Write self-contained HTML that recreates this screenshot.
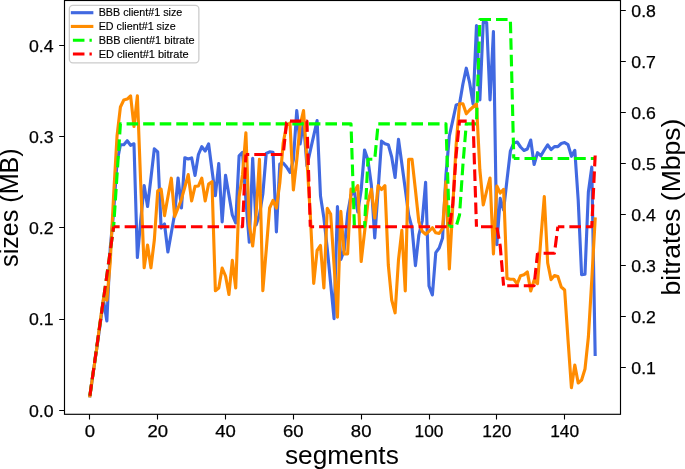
<!DOCTYPE html>
<html><head><meta charset="utf-8"><style>
html,body{margin:0;padding:0;background:#fff;width:685px;height:469px;overflow:hidden}
svg{display:block;will-change:transform}
text{font-family:"Liberation Sans",sans-serif;fill:#000}
</style></head><body><svg width="685" height="469" viewBox="0 0 685 469"><defs><clipPath id="c"><rect x="64.50" y="0.50" width="556.00" height="413.80"/></clipPath></defs><g clip-path="url(#c)"><polyline points="89.90,395.8 93.29,372.0 96.68,349.0 100.07,325.0 103.46,300.0 106.86,321.0 110.25,248.0 113.64,212.0 117.03,162.0 120.42,144.7 123.81,144.7 127.20,140.7 130.59,145.3 133.98,143.8 137.37,257.5 140.77,220.0 144.16,185.5 147.55,206.5 150.94,178.0 154.33,148.8 157.72,152.0 161.11,228.0 164.50,224.0 167.89,252.0 171.28,233.0 174.68,213.8 178.07,178.0 181.46,208.0 184.85,157.7 188.24,159.0 191.63,157.9 195.02,175.5 198.41,154.5 201.80,146.7 205.19,151.0 208.59,143.8 211.98,170.0 215.37,195.7 218.76,163.5 222.15,222.0 225.54,175.3 228.93,195.0 232.32,215.0 235.71,223.0 239.10,155.9 242.50,152.3 245.89,200.0 249.28,242.3 252.67,158.2 256.06,225.0 259.45,215.0 262.84,194.0 266.23,153.5 269.62,151.8 273.01,152.3 276.40,232.0 279.80,164.0 283.19,163.0 286.58,167.0 289.97,172.5 293.36,160.0 296.75,110.6 300.14,144.0 303.53,122.0 306.92,165.8 310.31,150.7 313.71,135.6 317.10,120.5 320.49,196.0 323.88,218.0 327.27,248.6 330.66,283.7 334.05,318.7 337.44,206.6 340.83,259.5 344.23,250.0 347.62,213.6 351.01,195.0 354.40,192.0 357.79,212.0 361.18,190.0 364.57,150.0 367.96,160.0 371.35,185.0 374.74,238.0 378.13,190.0 381.53,141.1 384.92,143.8 388.31,144.7 391.70,157.0 395.09,177.5 398.48,139.3 401.87,164.0 405.26,189.0 408.65,215.0 412.04,228.0 415.44,265.7 418.83,235.0 422.22,221.0 425.61,182.4 429.00,286.0 432.39,295.0 435.78,252.6 439.17,248.0 442.56,238.0 445.96,175.0 449.35,136.0 452.74,120.6 456.13,105.0 459.52,104.0 462.91,84.0 466.30,68.2 469.69,83.0 473.08,104.0 476.47,25.6 479.87,100.0 483.26,22.0 486.65,22.5 490.04,100.0 493.43,31.5 496.82,244.6 500.21,198.4 503.60,210.0 506.99,180.0 510.38,151.0 513.77,143.0 517.17,142.0 520.56,147.0 523.95,150.5 527.34,149.0 530.73,140.0 534.12,164.5 537.51,152.7 540.90,155.8 544.29,150.0 547.69,144.8 551.08,149.6 554.47,146.6 557.86,146.6 561.25,143.5 564.64,142.6 568.03,144.6 571.42,156.3 574.81,150.4 578.20,200.0 581.60,274.8 584.99,274.1 588.38,192.0 591.77,167.2 595.16,354.5" fill="none" stroke="#4169e1" stroke-width="3.13" stroke-linejoin="round" stroke-linecap="square"/><polyline points="89.90,395.8 93.29,372.0 96.68,349.0 100.07,322.0 103.46,298.4 106.86,300.0 110.25,262.0 113.64,195.0 117.03,136.0 120.42,107.0 123.81,100.0 127.20,99.1 130.59,95.8 133.98,126.5 137.37,95.8 140.77,185.0 144.16,267.8 147.55,245.0 150.94,267.8 154.33,240.0 157.72,191.0 161.11,189.2 164.50,215.6 167.89,197.0 171.28,178.2 174.68,216.5 178.07,208.0 181.46,199.2 184.85,187.0 188.24,174.6 191.63,201.0 195.02,186.4 198.41,186.0 201.80,178.2 205.19,201.0 208.59,184.0 211.98,181.7 215.37,290.8 218.76,288.0 222.15,268.0 225.54,276.0 228.93,294.5 232.32,260.3 235.71,288.0 239.10,197.0 242.50,175.0 245.89,132.9 249.28,225.0 252.67,246.0 256.06,215.0 259.45,159.4 262.84,290.7 266.23,250.0 269.62,208.0 273.01,200.4 276.40,208.0 279.80,183.0 283.19,143.0 286.58,125.0 289.97,123.0 293.36,190.0 296.75,160.0 300.14,125.0 303.53,110.6 306.92,160.0 310.31,215.0 313.71,283.4 317.10,250.5 320.49,245.5 323.88,288.0 327.27,208.3 330.66,214.0 334.05,265.0 337.44,317.2 340.83,211.4 344.23,254.0 347.62,254.0 351.01,189.0 354.40,191.0 357.79,185.6 361.18,261.5 364.57,232.0 367.96,202.0 371.35,189.3 374.74,218.0 378.13,185.6 381.53,189.5 384.92,185.6 388.31,265.0 391.70,300.0 395.09,312.8 398.48,260.0 401.87,230.3 405.26,291.0 408.65,159.3 412.04,159.3 415.44,190.0 418.83,222.0 422.22,231.3 425.61,234.2 429.00,231.3 432.39,227.7 435.78,232.8 439.17,233.5 442.56,228.4 445.96,181.7 449.35,269.0 452.74,207.0 456.13,145.0 459.52,103.8 462.91,103.8 466.30,113.8 469.69,110.0 473.08,107.0 476.47,103.8 479.87,170.0 483.26,205.0 486.65,191.0 490.04,178.0 493.43,254.0 496.82,186.0 500.21,193.0 503.60,189.3 506.99,278.4 510.38,279.3 513.77,279.3 517.17,283.9 520.56,275.7 523.95,274.7 527.34,272.0 530.73,291.0 534.12,280.2 537.51,283.7 540.90,238.2 544.29,196.6 547.69,263.0 551.08,279.6 554.47,275.5 557.86,276.5 561.25,287.0 564.64,290.0 568.03,340.0 571.42,387.7 574.81,365.0 578.20,383.0 581.60,380.0 584.99,369.0 588.38,337.0 591.77,280.0 595.16,219.0" fill="none" stroke="#ff8c00" stroke-width="3.13" stroke-linejoin="round" stroke-linecap="square"/><polyline points="89.90,395.8 93.29,371.7 96.68,347.5 100.07,323.4 103.46,299.3 106.86,275.2 110.25,251.0 113.64,226.9" fill="none" stroke="#00ff00" stroke-width="3.13" stroke-linejoin="round" stroke-linecap="butt" stroke-dasharray="11.57 5.0" stroke-dashoffset="0.00"/><polyline points="113.64,226.9 117.03,175.0 120.42,123.9 123.81,123.9 127.20,123.9 130.59,123.9 133.98,123.9 137.37,123.9 140.77,123.9 144.16,123.9 147.55,123.9 150.94,123.9 154.33,123.9 157.72,123.9 161.11,123.9 164.50,123.9 167.89,123.9 171.28,123.9 174.68,123.9 178.07,123.9 181.46,123.9 184.85,123.9 188.24,123.9 191.63,123.9 195.02,123.9 198.41,123.9 201.80,123.9 205.19,123.9 208.59,123.9 211.98,123.9 215.37,123.9 218.76,123.9 222.15,123.9 225.54,123.9 228.93,123.9 232.32,123.9 235.71,123.9 239.10,123.9 242.50,123.9 245.89,123.9 249.28,123.9 252.67,123.9 256.06,123.9 259.45,123.9 262.84,123.9 266.23,123.9 269.62,123.9 273.01,123.9 276.40,123.9 279.80,123.9 283.19,123.9 286.58,123.9 289.97,123.9 293.36,123.9 296.75,123.9 300.14,123.9 303.53,123.9 306.92,123.9 310.31,123.9 313.71,123.9 317.10,123.9 320.49,123.9 323.88,123.9 327.27,123.9 330.66,123.9 334.05,123.9 337.44,123.9 340.83,123.9 344.23,123.9 347.62,123.9 351.01,123.9 354.40,226.5" fill="none" stroke="#00ff00" stroke-width="3.13" stroke-linejoin="round" stroke-linecap="butt" stroke-dasharray="11.57 5.0" stroke-dashoffset="6.62"/><polyline points="354.40,226.5 357.79,226.5 361.18,226.5 364.57,226.5 367.96,159.3 371.35,159.3 374.74,159.3 378.13,123.9 381.53,123.9 384.92,123.9 388.31,123.9 391.70,123.9 395.09,123.9 398.48,123.9 401.87,123.9 405.26,123.9 408.65,123.9 412.04,123.9 415.44,123.9 418.83,123.9 422.22,123.9 425.61,123.9 429.00,123.9 432.39,123.9 435.78,123.9 439.17,123.9 442.56,123.9 445.96,123.9 449.35,226.5" fill="none" stroke="#00ff00" stroke-width="3.13" stroke-linejoin="round" stroke-linecap="butt" stroke-dasharray="11.57 5.0" stroke-dashoffset="12.60"/><polyline points="449.35,226.5 452.74,226.5 456.13,226.5 459.52,215.0 462.91,165.0 466.30,123.9 469.69,123.9 473.08,123.9 476.47,123.9 479.87,19.5 483.26,19.5 486.65,19.5 490.04,19.5 493.43,19.5 496.82,19.5 500.21,19.5 503.60,19.5 506.99,19.5 510.38,19.5 513.77,158.5" fill="none" stroke="#00ff00" stroke-width="3.13" stroke-linejoin="round" stroke-linecap="butt" stroke-dasharray="11.57 5.0" stroke-dashoffset="7.68"/><polyline points="513.77,158.5 517.17,158.5 520.56,158.5 523.95,158.5 527.34,158.5 530.73,158.5 534.12,158.5 537.51,158.5 540.90,158.5 544.29,158.5 547.69,158.5 551.08,158.5 554.47,158.5 557.86,158.5 561.25,158.5 564.64,158.5 568.03,158.5 571.42,158.5 574.81,158.5 578.20,158.5 581.60,158.5 584.99,158.5 588.38,158.5 591.77,158.5 595.16,158.5" fill="none" stroke="#00ff00" stroke-width="3.13" stroke-linejoin="round" stroke-linecap="butt" stroke-dasharray="11.57 5.0" stroke-dashoffset="5.84"/><polyline points="89.90,395.8 93.29,371.7 96.68,347.5 100.07,323.4 103.46,299.3 106.86,275.2 110.25,251.0 113.64,226.7" fill="none" stroke="#ff0000" stroke-width="3.13" stroke-linejoin="round" stroke-linecap="butt" stroke-dasharray="11.57 5.0" stroke-dashoffset="0.00"/><polyline points="113.64,226.7 117.03,226.7 120.42,226.7 123.81,226.7 127.20,226.7 130.59,226.7 133.98,226.7 137.37,226.7 140.77,226.7 144.16,226.7 147.55,226.7 150.94,226.7 154.33,226.7 157.72,226.7 161.11,226.7 164.50,226.7 167.89,226.7 171.28,226.7 174.68,226.7 178.07,226.7 181.46,226.7 184.85,226.7 188.24,226.7 191.63,226.7 195.02,226.7 198.41,226.7 201.80,226.7 205.19,226.7 208.59,226.7 211.98,226.7 215.37,226.7 218.76,226.7 222.15,226.7 225.54,226.7 228.93,226.7 232.32,226.7 235.71,226.7 239.10,226.7 242.50,226.7 245.89,154.5" fill="none" stroke="#ff0000" stroke-width="3.13" stroke-linejoin="round" stroke-linecap="butt" stroke-dasharray="11.57 5.0" stroke-dashoffset="5.56"/><polyline points="245.89,154.5 249.28,154.5 252.67,154.5 256.06,154.5 259.45,154.5 262.84,154.5 266.23,154.5 269.62,154.5 273.01,154.5 276.40,154.5 279.80,154.5 283.19,154.5 286.58,122.5 289.97,121.1" fill="none" stroke="#ff0000" stroke-width="3.13" stroke-linejoin="round" stroke-linecap="butt" stroke-dasharray="11.57 5.0" stroke-dashoffset="8.19"/><polyline points="289.97,121.1 293.36,121.1 296.75,121.1 300.14,121.1 303.53,121.1 306.92,121.1 310.31,226.7" fill="none" stroke="#ff0000" stroke-width="3.13" stroke-linejoin="round" stroke-linecap="butt" stroke-dasharray="11.57 5.0" stroke-dashoffset="0.37"/><polyline points="310.31,226.7 313.71,226.7 317.10,226.7 320.49,226.7 323.88,226.7 327.27,226.7 330.66,226.7 334.05,226.7 337.44,226.7 340.83,226.7 344.23,226.7 347.62,226.7 351.01,226.7 354.40,226.7 357.79,226.7 361.18,226.7 364.57,226.7 367.96,226.7 371.35,226.7 374.74,226.7 378.13,226.7 381.53,226.7 384.92,226.7 388.31,226.7 391.70,226.7 395.09,226.7 398.48,226.7 401.87,226.7 405.26,226.7 408.65,226.7 412.04,226.7 415.44,226.7 418.83,226.7 422.22,226.7 425.61,226.7 429.00,226.7 432.39,226.7 435.78,226.7 439.17,226.7 442.56,226.7 445.96,226.7 449.35,226.7 452.74,205.0 456.13,155.0 459.52,121.1 462.91,121.1 466.30,121.1 469.69,121.1 473.08,121.1 476.47,226.7" fill="none" stroke="#ff0000" stroke-width="3.13" stroke-linejoin="round" stroke-linecap="butt" stroke-dasharray="11.57 5.0" stroke-dashoffset="7.76"/><polyline points="476.47,226.7 479.87,226.7 483.26,226.7 486.65,226.7 490.04,226.7 493.43,226.7 496.82,226.7 500.21,246.0 503.60,285.7" fill="none" stroke="#ff0000" stroke-width="3.13" stroke-linejoin="round" stroke-linecap="butt" stroke-dasharray="11.57 5.0" stroke-dashoffset="12.04"/><polyline points="503.60,285.7 506.99,285.7 510.38,285.7 513.77,285.7 517.17,285.7 520.56,285.7 523.95,285.7 527.34,285.7 530.73,285.7 534.12,285.7 537.51,253.2" fill="none" stroke="#ff0000" stroke-width="3.13" stroke-linejoin="round" stroke-linecap="butt" stroke-dasharray="11.57 5.0" stroke-dashoffset="12.95"/><polyline points="537.51,253.2 540.90,253.2 544.29,253.2 547.69,253.2 551.08,253.2 554.47,253.2 557.86,226.7" fill="none" stroke="#ff0000" stroke-width="3.13" stroke-linejoin="round" stroke-linecap="butt" stroke-dasharray="11.57 5.0" stroke-dashoffset="10.48"/><polyline points="557.86,226.7 561.25,226.7 564.64,226.7 568.03,226.7 571.42,226.7 574.81,226.7 578.20,226.7 581.60,226.7 584.99,226.7 588.38,226.7 591.77,226.7 595.16,155.5" fill="none" stroke="#ff0000" stroke-width="3.13" stroke-linejoin="round" stroke-linecap="butt" stroke-dasharray="11.57 5.0" stroke-dashoffset="5.07"/></g><rect x="64.5" y="0.5" width="556.00" height="413.80" fill="none" stroke="#000" stroke-width="1.15"/><path d="M59.20 410.50H64.5 M59.20 319.50H64.5 M59.20 227.50H64.5 M59.20 136.50H64.5 M59.20 45.50H64.5 M620.5 367.50H625.80 M620.5 316.50H625.80 M620.5 265.50H625.80 M620.5 214.50H625.80 M620.5 163.50H625.80 M620.5 112.50H625.80 M620.5 61.50H625.80 M620.5 10.50H625.80 M89.50 414.3V419.60 M157.50 414.3V419.60 M225.50 414.3V419.60 M293.50 414.3V419.60 M361.50 414.3V419.60 M429.50 414.3V419.60 M496.50 414.3V419.60 M564.50 414.3V419.60" stroke="#000" stroke-width="1.11" fill="none"/><text x="41.2" y="416.50" text-anchor="middle" textLength="24.6" lengthAdjust="spacingAndGlyphs" font-size="16.6" stroke="#000" stroke-width="0.25" font-family="Liberation Sans, sans-serif">0.0</text><text x="41.2" y="325.27" text-anchor="middle" textLength="24.6" lengthAdjust="spacingAndGlyphs" font-size="16.6" stroke="#000" stroke-width="0.25" font-family="Liberation Sans, sans-serif">0.1</text><text x="41.2" y="234.05" text-anchor="middle" textLength="24.6" lengthAdjust="spacingAndGlyphs" font-size="16.6" stroke="#000" stroke-width="0.25" font-family="Liberation Sans, sans-serif">0.2</text><text x="41.2" y="142.82" text-anchor="middle" textLength="24.6" lengthAdjust="spacingAndGlyphs" font-size="16.6" stroke="#000" stroke-width="0.25" font-family="Liberation Sans, sans-serif">0.3</text><text x="41.2" y="51.60" text-anchor="middle" textLength="24.6" lengthAdjust="spacingAndGlyphs" font-size="16.6" stroke="#000" stroke-width="0.25" font-family="Liberation Sans, sans-serif">0.4</text><text x="643.6" y="373.96" text-anchor="middle" textLength="24.6" lengthAdjust="spacingAndGlyphs" font-size="16.6" stroke="#000" stroke-width="0.25" font-family="Liberation Sans, sans-serif">0.1</text><text x="643.6" y="322.92" text-anchor="middle" textLength="24.6" lengthAdjust="spacingAndGlyphs" font-size="16.6" stroke="#000" stroke-width="0.25" font-family="Liberation Sans, sans-serif">0.2</text><text x="643.6" y="271.88" text-anchor="middle" textLength="24.6" lengthAdjust="spacingAndGlyphs" font-size="16.6" stroke="#000" stroke-width="0.25" font-family="Liberation Sans, sans-serif">0.3</text><text x="643.6" y="220.84" text-anchor="middle" textLength="24.6" lengthAdjust="spacingAndGlyphs" font-size="16.6" stroke="#000" stroke-width="0.25" font-family="Liberation Sans, sans-serif">0.4</text><text x="643.6" y="169.80" text-anchor="middle" textLength="24.6" lengthAdjust="spacingAndGlyphs" font-size="16.6" stroke="#000" stroke-width="0.25" font-family="Liberation Sans, sans-serif">0.5</text><text x="643.6" y="118.76" text-anchor="middle" textLength="24.6" lengthAdjust="spacingAndGlyphs" font-size="16.6" stroke="#000" stroke-width="0.25" font-family="Liberation Sans, sans-serif">0.6</text><text x="643.6" y="67.72" text-anchor="middle" textLength="24.6" lengthAdjust="spacingAndGlyphs" font-size="16.6" stroke="#000" stroke-width="0.25" font-family="Liberation Sans, sans-serif">0.7</text><text x="643.6" y="16.68" text-anchor="middle" textLength="24.6" lengthAdjust="spacingAndGlyphs" font-size="16.6" stroke="#000" stroke-width="0.25" font-family="Liberation Sans, sans-serif">0.8</text><text x="89.90" y="437.1" text-anchor="middle" textLength="10.32" lengthAdjust="spacingAndGlyphs" font-size="16.6" stroke="#000" stroke-width="0.25" font-family="Liberation Sans, sans-serif">0</text><text x="157.72" y="437.1" text-anchor="middle" textLength="20.62" lengthAdjust="spacingAndGlyphs" font-size="16.6" stroke="#000" stroke-width="0.25" font-family="Liberation Sans, sans-serif">20</text><text x="225.54" y="437.1" text-anchor="middle" textLength="20.62" lengthAdjust="spacingAndGlyphs" font-size="16.6" stroke="#000" stroke-width="0.25" font-family="Liberation Sans, sans-serif">40</text><text x="293.36" y="437.1" text-anchor="middle" textLength="20.62" lengthAdjust="spacingAndGlyphs" font-size="16.6" stroke="#000" stroke-width="0.25" font-family="Liberation Sans, sans-serif">60</text><text x="361.18" y="437.1" text-anchor="middle" textLength="20.62" lengthAdjust="spacingAndGlyphs" font-size="16.6" stroke="#000" stroke-width="0.25" font-family="Liberation Sans, sans-serif">80</text><text x="429.00" y="437.1" text-anchor="middle" textLength="28.94" lengthAdjust="spacingAndGlyphs" font-size="16.6" stroke="#000" stroke-width="0.25" font-family="Liberation Sans, sans-serif">100</text><text x="496.82" y="437.1" text-anchor="middle" textLength="28.94" lengthAdjust="spacingAndGlyphs" font-size="16.6" stroke="#000" stroke-width="0.25" font-family="Liberation Sans, sans-serif">120</text><text x="564.64" y="437.1" text-anchor="middle" textLength="28.94" lengthAdjust="spacingAndGlyphs" font-size="16.6" stroke="#000" stroke-width="0.25" font-family="Liberation Sans, sans-serif">140</text><text x="284.9" y="464.0" textLength="113.88" lengthAdjust="spacingAndGlyphs" font-size="25.5" font-family="Liberation Sans, sans-serif">segments</text><text transform="translate(18.2,266.9) rotate(-90)" textLength="118.61" lengthAdjust="spacingAndGlyphs" font-size="25.5" font-family="Liberation Sans, sans-serif">sizes (MB)</text><text transform="translate(680.1,295.5) rotate(-90)" textLength="176.86" lengthAdjust="spacingAndGlyphs" font-size="25.5" font-family="Liberation Sans, sans-serif">bitrates (Mbps)</text><rect x="69.35" y="5.45" width="129.5" height="57.35" rx="3.5" fill="#fff" fill-opacity="0.8" stroke="#cccccc" stroke-width="1.3"/><path d="M72.4 12.7H91.8" stroke="#4169e1" stroke-width="3.13" stroke-linecap="square" fill="none"/><text x="98.7" y="16.30" textLength="83.6" lengthAdjust="spacingAndGlyphs" font-size="10.2" stroke="#000" stroke-width="0.15" font-family="Liberation Sans, sans-serif">BBB client#1 size</text><path d="M72.4 26.45H91.8" stroke="#ff8c00" stroke-width="3.13" stroke-linecap="square" fill="none"/><text x="98.7" y="30.05" textLength="77.0" lengthAdjust="spacingAndGlyphs" font-size="10.2" stroke="#000" stroke-width="0.15" font-family="Liberation Sans, sans-serif">ED client#1 size</text><path d="M72.9 40.2H91.8" stroke="#00ff00" stroke-width="3.13" stroke-dasharray="11.57 5.0" fill="none"/><text x="98.7" y="43.80" textLength="95.8" lengthAdjust="spacingAndGlyphs" font-size="10.2" stroke="#000" stroke-width="0.15" font-family="Liberation Sans, sans-serif">BBB client#1 bitrate</text><path d="M72.9 53.95H91.8" stroke="#ff0000" stroke-width="3.13" stroke-dasharray="11.57 5.0" fill="none"/><text x="98.7" y="57.55" textLength="89.9" lengthAdjust="spacingAndGlyphs" font-size="10.2" stroke="#000" stroke-width="0.15" font-family="Liberation Sans, sans-serif">ED client#1 bitrate</text></svg></body></html>
